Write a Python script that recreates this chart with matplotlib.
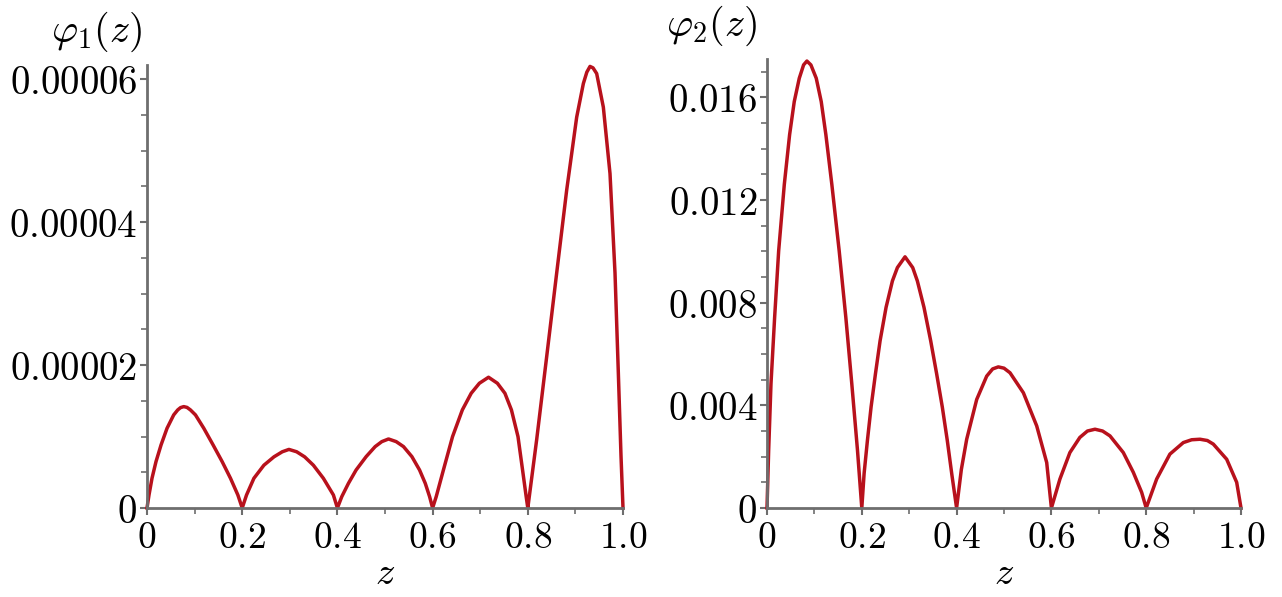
import matplotlib
matplotlib.use("Agg")
import matplotlib.pyplot as plt
from matplotlib.ticker import MultipleLocator

plt.rcParams['mathtext.fontset'] = 'cm'

# ---- data ----
# left panel: phi_1(z), values in units of 1e-6
z1 = [0, 0.0042, 0.0105, 0.0189, 0.0295, 0.0421, 0.0561, 0.0646, 0.0705, 0.0772, 0.084, 0.0912, 0.1018, 0.1193, 0.1389, 0.1579, 0.1754, 0.1909, 0.2,
      0.2091, 0.2246, 0.2456, 0.2667, 0.2842, 0.2982, 0.3144, 0.3312, 0.3495, 0.3705, 0.3916, 0.4,
      0.4092, 0.4232, 0.4393, 0.4604, 0.4793, 0.4933, 0.5074, 0.5235, 0.5389, 0.5565, 0.5726, 0.5846, 0.5937, 0.6,
      0.6076, 0.6227, 0.6419, 0.6625, 0.6811, 0.6983, 0.7175, 0.7361, 0.7519, 0.7656, 0.7794, 0.789, 0.7966, 0.8,
      0.8187, 0.8397, 0.8607, 0.8817, 0.9027, 0.9167, 0.924, 0.9307, 0.937, 0.9447, 0.9587, 0.9727, 0.9832, 0.9902, 0.9958, 1.0]
phi1_e6 = [0, 1.82, 4.16, 6.49, 8.82, 11.16, 13.03, 13.73, 14.05, 14.19, 14.08, 13.73, 13.03, 11.16, 8.82, 6.49, 4.16, 1.82, 0,
           1.82, 4.16, 5.99, 7.16, 7.87, 8.2, 7.87, 7.16, 5.99, 4.16, 1.82, 0,
           1.59, 3.45, 5.32, 7.19, 8.59, 9.29, 9.66, 9.29, 8.59, 7.19, 5.32, 3.45, 1.59, 0,
           1.59, 5.32, 9.99, 13.73, 16.06, 17.46, 18.3, 17.46, 16.06, 13.73, 9.99, 5.32, 1.59, 0,
           9.6, 21.2, 32.9, 44.5, 54.7, 59.4, 61.0, 61.8, 61.6, 60.8, 56.1, 46.8, 32.9, 18.9, 7.3, 0]

# right panel: phi_2(z), values in units of 1e-3
z2 = [0, 0.0035, 0.0084, 0.0161, 0.0246, 0.0365, 0.0477, 0.0575, 0.0681, 0.0772, 0.0842, 0.0926, 0.1039, 0.1144, 0.1242, 0.1368, 0.1523, 0.1663, 0.1789, 0.1909, 0.2,
      0.2049, 0.2119, 0.2196, 0.2288, 0.2386, 0.2512, 0.2646, 0.2751, 0.2912, 0.3074, 0.3172, 0.3312, 0.3453, 0.3579, 0.3698, 0.3803, 0.390, 0.4,
      0.41, 0.4213, 0.4424, 0.4635, 0.476, 0.488, 0.500, 0.5127, 0.5409, 0.569, 0.5901, 0.6,
      0.618, 0.639, 0.660, 0.676, 0.692, 0.708, 0.7236, 0.7517, 0.7728, 0.7904, 0.8,
      0.8221, 0.850, 0.8783, 0.896, 0.9135, 0.929, 0.9416, 0.9698, 0.9909, 1.0]
phi2_e3 = [0, 2.25, 4.84, 7.43, 10.02, 12.61, 14.55, 15.84, 16.75, 17.27, 17.42, 17.27, 16.75, 15.84, 14.55, 12.61, 10.02, 7.43, 4.84, 2.25, 0,
           1.35, 2.64, 3.94, 5.23, 6.52, 7.82, 8.85, 9.37, 9.79, 9.37, 8.85, 7.82, 6.52, 5.23, 3.94, 2.64, 1.3, 0,
           1.5, 2.68, 4.23, 5.14, 5.42, 5.50, 5.45, 5.27, 4.49, 3.20, 1.77, 0,
           1.13, 2.16, 2.75, 3.0, 3.07, 3.0, 2.81, 2.16, 1.39, 0.61, 0,
           1.13, 2.10, 2.55, 2.66, 2.68, 2.63, 2.49, 1.90, 1.00, 0]

xticks = [0, 0.2, 0.4, 0.6, 0.8, 1.0]
xticklabels = ['0', '0.2', '0.4', '0.6', '0.8', '1.0']
yticks1 = [0, 0.00002, 0.00004, 0.00006]
yticklabels1 = ['0', '0.00002', '0.00004', '0.00006']
yticks2 = [0, 0.004, 0.008, 0.012, 0.016]
yticklabels2 = ['0', '0.004', '0.008', '0.012', '0.016']

W, H = 1282, 597
fig = plt.figure(figsize=(W / 100, H / 100), dpi=100)

line_color = '#b8111c'
axis_color = '#6e6e6e'


def style(ax, yticks, yticklabels, yminor, ylabel, ylab_x):
    for s in ['top', 'right']:
        ax.spines[s].set_visible(False)
    for s in ['left', 'bottom']:
        ax.spines[s].set_color(axis_color)
        ax.spines[s].set_linewidth(2.0)
    ax.set_xlim(0, 1.0)
    ax.set_xticks(xticks)
    ax.set_xticklabels(['$' + t + '$' for t in xticklabels], fontsize=27)
    ax.xaxis.set_minor_locator(MultipleLocator(0.1))
    ax.set_yticks(yticks)
    ax.set_yticklabels(['$' + t + '$' for t in yticklabels], fontsize=28)
    ax.yaxis.set_minor_locator(MultipleLocator(yminor))
    ax.tick_params(axis='both', which='major', direction='out', length=5, width=1.5,
                   color=axis_color, labelcolor='black')
    ax.tick_params(axis='both', which='minor', direction='out', length=4, width=1.2,
                   color=axis_color)
    ax.tick_params(axis='x', which='major', pad=4)
    ax.tick_params(axis='y', which='major', pad=2)
    ax.set_xlabel('$z$', fontsize=28, labelpad=-2)
    ax.text(ylab_x, 1.025, ylabel, transform=ax.transAxes, fontsize=29,
            ha='right', va='bottom')
    ax.set_facecolor('none')


ax1 = fig.add_axes([147 / W, 89 / H, 476 / W, 443 / H])
ax1.plot(z1, [v * 1e-6 for v in phi1_e6], color=line_color, lw=2.5,
         clip_on=False, solid_joinstyle='round')
ax1.set_ylim(0, 6.2e-5)
style(ax1, yticks1, yticklabels1, 0.000005, r'$\varphi_1(z)$', -0.01)

ax2 = fig.add_axes([767 / W, 89 / H, 474 / W, 449 / H])
ax2.plot(z2, [v * 1e-3 for v in phi2_e3], color=line_color, lw=2.5,
         clip_on=False, solid_joinstyle='round')
ax2.set_ylim(0, 0.0175)
style(ax2, yticks2, yticklabels2, 0.001, r'$\varphi_2(z)$', -0.02)

fig.savefig('out.png', dpi=100)
